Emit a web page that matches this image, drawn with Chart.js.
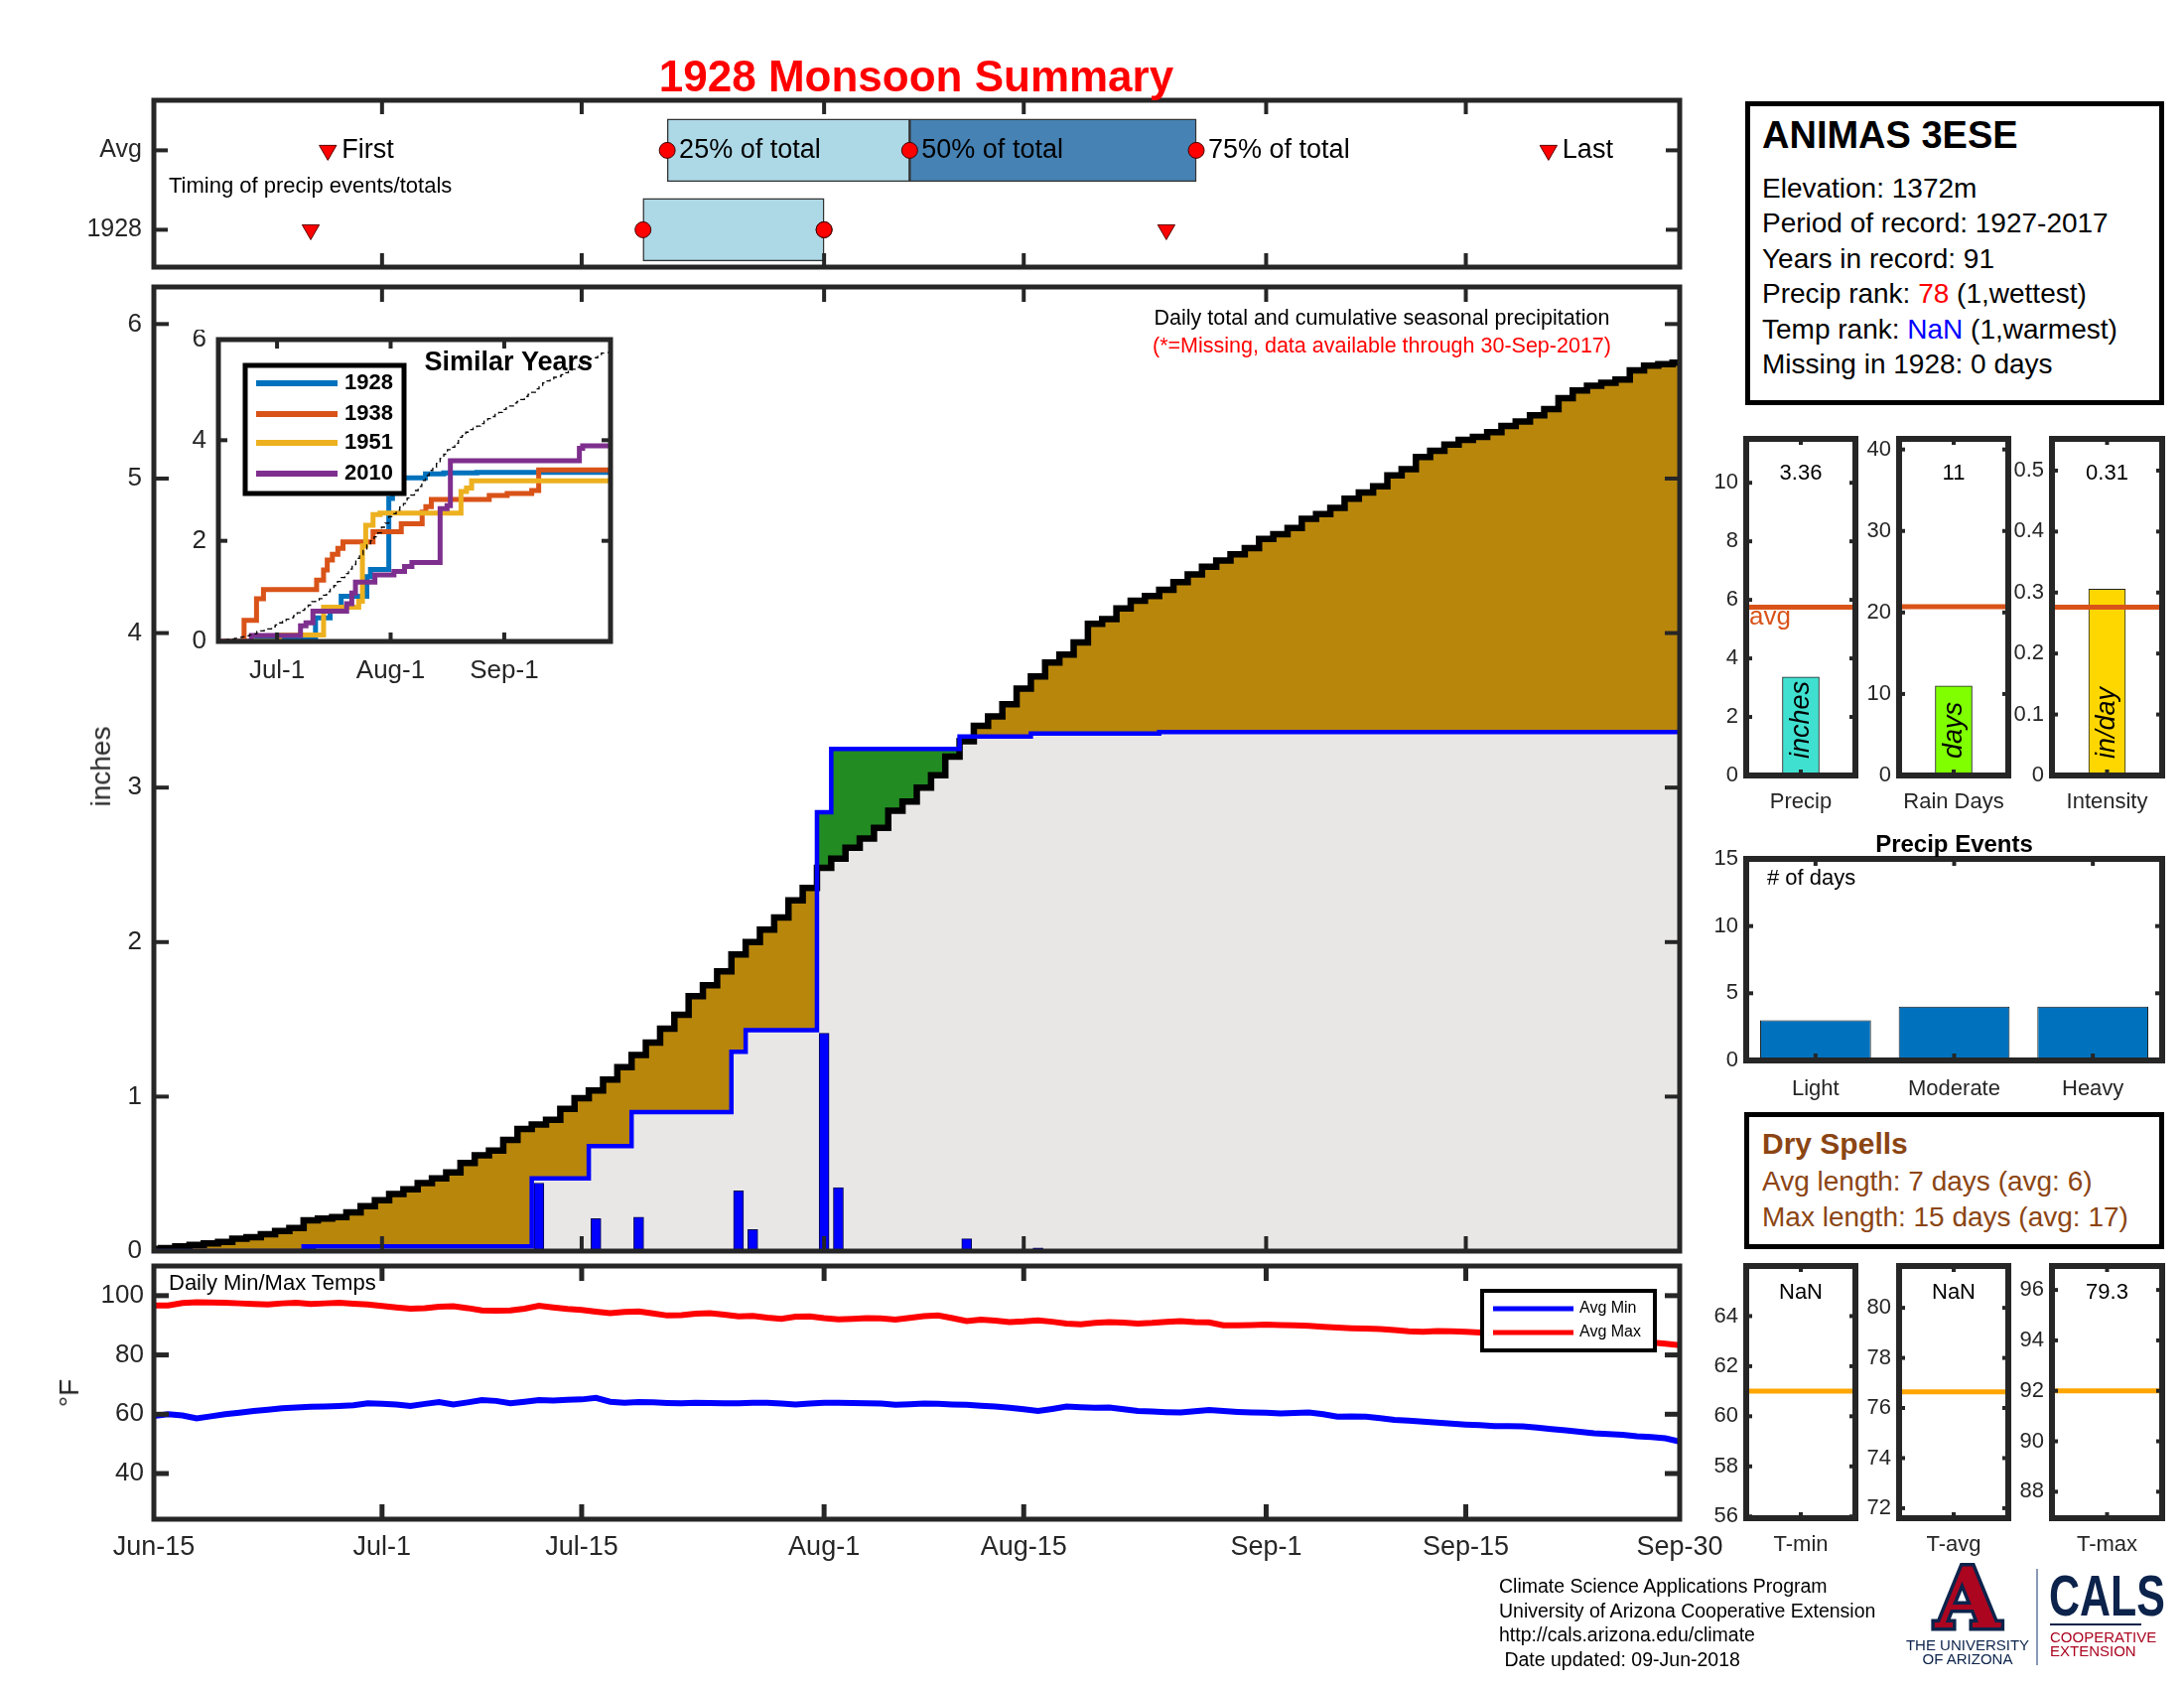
<!DOCTYPE html>
<html>
<head>
<meta charset="utf-8">
<script src="https://cdn.jsdelivr.net/npm/chart.js"></script>
<style>
  body { margin: 0; background: #fff; }
  #page { position: relative; width: 2200px; height: 1700px; overflow: hidden; background: #fff; }
  #page canvas { position: absolute; }
  .t { position: absolute; white-space: nowrap; line-height: 1.15; }
  .box { position: absolute; border: 5px solid #000; box-sizing: border-box; background: #fff; }
</style>
</head>
<body>
<div id="page"></div>
<script>
// ---- data ----
const dayTicks = [0, 16, 30, 47, 61, 78, 92, 107];
const dayTickLabels = ['Jun-15', 'Jul-1', 'Jul-15', 'Aug-1', 'Aug-15', 'Sep-1', 'Sep-15', 'Sep-30'];

// average cumulative seasonal precip (inches), one value per day from Jun-15
const avgCum = [
  0.015, 0.02, 0.03, 0.04, 0.05, 0.06, 0.08, 0.09, 0.11, 0.13,
  0.15, 0.20, 0.21, 0.22, 0.25, 0.29, 0.33, 0.37, 0.40, 0.44,
  0.47, 0.51, 0.57, 0.62, 0.65, 0.72, 0.79, 0.82, 0.85, 0.92,
  0.99, 1.04, 1.11, 1.19, 1.27, 1.35, 1.44, 1.53, 1.65, 1.72,
  1.81, 1.92, 2.00, 2.08, 2.16, 2.27, 2.35, 2.48, 2.54, 2.61,
  2.67, 2.74, 2.85, 2.91, 3.00, 3.08, 3.20, 3.30, 3.40, 3.46,
  3.54, 3.64, 3.72, 3.81, 3.86, 3.94, 4.06, 4.09, 4.16, 4.21,
  4.24, 4.28, 4.33, 4.38, 4.43, 4.47, 4.51, 4.55, 4.61, 4.64,
  4.68, 4.74, 4.77, 4.81, 4.87, 4.91, 4.95, 5.02, 5.06, 5.14,
  5.18, 5.22, 5.25, 5.27, 5.30, 5.34, 5.37, 5.41, 5.45, 5.52,
  5.57, 5.60, 5.62, 5.64, 5.70, 5.73, 5.74, 5.75
];

// 1928 daily rain (day index from Jun-15, inches)
const rainDays1928 = [11, 27, 31, 34, 41, 42, 47, 48, 57, 62, 71];
const rain1928 = [0.03, 0.44, 0.21, 0.22, 0.39, 0.14, 1.41, 0.41, 0.08, 0.02, 0.01];

// average daily min / max temps (F)
const tMaxAvg = [
  96.7, 96.7, 97.5, 97.8, 97.7, 97.6, 97.4, 97.2, 97.0, 97.4,
  97.6, 97.2, 97.4, 97.6, 97.3, 97.0, 96.5, 96.0, 95.6, 95.8,
  96.3, 96.4, 95.8, 95.0, 94.9, 95.0, 95.6, 96.6, 96.0, 95.5,
  95.2, 94.6, 94.1, 94.5, 94.7, 94.0, 93.3, 93.4, 93.9, 94.1,
  93.6, 93.0, 93.2, 92.6, 92.2, 92.9, 93.0, 92.4, 92.0, 92.2,
  92.4, 92.3, 91.9, 92.5, 93.1, 93.3, 92.4, 91.4, 91.9, 91.6,
  91.1, 91.3, 91.7, 91.2, 90.6, 90.3, 90.8, 91.1, 90.9, 90.6,
  90.8, 91.2, 91.4, 91.1, 91.0, 90.0, 90.0, 90.1, 90.2, 90.1,
  90.0, 89.8, 89.5, 89.2, 89.0, 88.9, 88.7, 88.4, 88.0, 87.8,
  88.1, 88.0, 87.8, 87.6, 87.5, 87.2, 86.9, 86.8, 86.5, 86.2,
  86.0, 85.6, 85.3, 85.0, 84.7, 84.2, 83.8, 83.3
];
const tMinAvg = [
  59.4, 60.0, 59.6, 58.6, 59.3, 60.0, 60.5, 61.1, 61.5, 62.0,
  62.3, 62.5, 62.6, 62.8, 63.0, 63.7, 63.5, 63.3, 62.8, 63.5,
  64.1, 63.3, 64.0, 64.8, 64.5, 63.7, 64.2, 64.8, 64.6, 64.9,
  65.0, 65.5, 64.2, 63.9, 64.1, 64.0, 63.8, 63.7, 63.9, 63.8,
  63.7, 63.7, 63.9, 63.9, 63.6, 63.3, 63.6, 63.9, 63.9, 63.8,
  63.7, 63.6, 63.2, 63.4, 63.6, 63.5, 63.3, 63.2, 62.9, 62.6,
  62.2, 61.7, 61.1, 61.8, 62.6, 62.4, 62.2, 62.3, 61.7, 61.1,
  60.9, 60.7, 60.6, 61.0, 61.4, 61.1, 60.8, 60.6, 60.5, 60.3,
  60.4, 60.6, 60.0, 59.2, 59.3, 59.2, 58.7, 58.1, 57.8, 57.5,
  57.2, 56.8, 56.5, 56.3, 56.0, 56.0, 55.9, 55.5, 55.0, 54.6,
  54.1, 53.6, 53.3, 53.1, 52.6, 52.3, 51.9, 50.8
];

// timing panel (days from Jun-15)
const timingRows = ['1928', 'Avg'];
const avgFirstLast = [12.2, 97.8];
const avgPct = [36.0, 53.0, 73.1];
const yrFirstLast = [11, 71];
const yrPct = [34.3, 47, 47];
const pctLabels = ['25% of total', '50% of total', '75% of total'];

// similar years (step positions and cumulative inches)
const sim1938Days = [0, 7, 10.4, 12.3, 26.8, 28.7, 29.7, 31.1, 32.6, 34, 42.2, 49.9, 55.6, 56.6, 58.1, 73.9, 78.8, 85.5, 87.4, 107];
const sim1938 = [0, 0.42, 0.85, 1.03, 1.22, 1.42, 1.62, 1.73, 1.85, 1.98, 2.18, 2.34, 2.57, 2.68, 2.82, 2.90, 2.94, 3.00, 3.41, 3.41];
const sim1951Days = [0, 16.7, 28.7, 38.3, 39.3, 40.2, 42.2, 44.1, 66.2, 67.7, 69.1, 107];
const sim1951 = [0, 0.13, 0.68, 0.80, 1.90, 2.31, 2.52, 2.55, 2.98, 3.05, 3.19, 3.19];
const sim2010Days = [0, 9, 22.4, 23.9, 25.8, 35, 36.4, 37.4, 42.7, 47.9, 50.8, 52.8, 60.5, 62.4, 63.3, 98.5, 99.4, 107];
const sim2010 = [0, 0.12, 0.31, 0.37, 0.60, 0.75, 0.96, 1.18, 1.32, 1.39, 1.49, 1.57, 2.64, 2.70, 3.59, 3.84, 3.89, 3.89];

// right-hand summaries
const summaryLabels = ['Precip', 'Rain Days', 'Intensity'];
const summary1928 = [3.36, 11, 0.3055];
const summaryAvg = [5.75, 20.7, 0.276];
const eventLabels = ['Light', 'Moderate', 'Heavy'];
const eventCounts = [3, 4, 4];
const tempLabels = ['T-min', 'T-avg', 'T-max'];
const temp1928 = [NaN, NaN, 79.3];
const tempAvg = [61.0, 76.64, 92.0];

// ---- helpers ----
const FONT = "'Liberation Sans', Arial, Helvetica, sans-serif";
const INK = '#262626';
const f = (px, w) => (w ? w + ' ' : '') + px + 'px ' + FONT;
Chart.defaults.font.family = FONT;
Chart.defaults.color = INK;

const page = document.getElementById('page');
const deco = {};

const pts = (xs, ys) => xs.map((x, i) => ({ x: x, y: ys[i] }));
const days = avgCum.map((_, d) => d);
// matlab stairs: each day's value starts half a day before the bar
const stairs = ys => ys.map((y, d) => ({ x: d - 0.5, y: y })).concat([{ x: 107, y: ys[ys.length - 1] }]);

const cum1928 = [];
let run = 0;
for (let d = 0; d <= 107; d++) {
  const i = rainDays1928.indexOf(d);
  if (i >= 0) run += rain1928[i];
  cum1928.push(+run.toFixed(3));
}
const avgPts = stairs(avgCum);
const cumPts = stairs(cum1928);
const dayLabel = v => dayTickLabels[dayTicks.indexOf(v)];

function scale(min, max, ticks, opt) {
  opt = opt || {};
  const s = {
    type: opt.type || 'linear',
    offset: !!opt.offset,
    grid: { display: false, drawTicks: false },
    border: { display: false },
    ticks: { display: opt.labels !== false, font: { size: opt.size || 26 }, color: INK,
             padding: opt.pad === undefined ? 12 : opt.pad, autoSkip: false, maxRotation: 0, minRotation: 0 }
  };
  if (min !== undefined) s.min = min;
  if (max !== undefined) s.max = max;
  if (ticks) s.afterBuildTicks = sc => { sc.ticks = ticks.map(v => ({ value: v })); };
  if (opt.fmt) s.ticks.callback = opt.fmt;
  return s;
}

function noPad(s) { s.paddingLeft = 0; s.paddingRight = 0; s.paddingTop = 0; s.paddingBottom = 0; }

function makeChart(id, area, m, config, d) {
  deco[id] = d || {};
  const c = document.createElement('canvas');
  c.id = id;
  const w = area[2] - area[0] + m[0] + m[2];
  const h = area[3] - area[1] + m[1] + m[3];
  c.width = w; c.height = h;
  c.style.left = (area[0] - m[0]) + 'px';
  c.style.top = (area[1] - m[1]) + 'px';
  c.style.width = w + 'px'; c.style.height = h + 'px';
  page.appendChild(c);
  const o = config.options;
  o.responsive = false;
  o.animation = false;
  o.devicePixelRatio = 1;
  o.layout = { autoPadding: false, padding: { left: 0, top: m[1], right: m[2], bottom: 0 } };
  o.scales.x.afterFit = s => { s.height = m[3]; noPad(s); };
  o.scales.y.afterFit = s => { s.width = m[0]; noPad(s); };
  o.plugins = { legend: { display: false }, tooltip: { enabled: false }, filler: { drawTime: 'beforeDatasetsDraw' } };
  return new Chart(c, config);
}

function drawLegend(chart, L) {
  const ctx = chart.ctx, a = chart.chartArea;
  const x0 = (L.ax === 'right' ? a.right : a.left) + L.dx, y0 = a.top + L.dy;
  ctx.fillStyle = '#fff';
  ctx.fillRect(x0, y0, L.w, L.h);
  ctx.lineWidth = L.lw; ctx.strokeStyle = '#000';
  ctx.strokeRect(x0, y0, L.w, L.h);
  L.items.forEach((idx, k) => {
    const ds = chart.data.datasets[idx];
    const y = y0 + L.rows[k];
    ctx.strokeStyle = ds.borderColor; ctx.lineWidth = L.sw;
    ctx.beginPath(); ctx.moveTo(x0 + L.x1, y); ctx.lineTo(x0 + L.x2, y); ctx.stroke();
    ctx.fillStyle = '#000'; ctx.font = L.font; ctx.textAlign = 'left'; ctx.textBaseline = 'middle';
    ctx.fillText(ds.label, x0 + L.tx, y);
  });
}

Chart.register({
  id: 'deco',
  beforeDraw(chart) {
    const d = deco[chart.canvas.id];
    if (!d || !d.bg) return;
    const a = chart.chartArea, ctx = chart.ctx;
    ctx.save(); ctx.fillStyle = d.bg;
    ctx.fillRect(a.left, a.top, a.right - a.left, a.bottom - a.top);
    ctx.restore();
  },
  afterDatasetsDraw(chart) {
    const d = deco[chart.canvas.id];
    if (!d) return;
    const a = chart.chartArea, ctx = chart.ctx, sx = chart.scales.x, sy = chart.scales.y;
    ctx.save();
    (d.hlines || []).forEach(h => {
      const y = sy.getPixelForValue(h.v);
      ctx.strokeStyle = h.color; ctx.lineWidth = h.w;
      ctx.beginPath(); ctx.moveTo(a.left, y); ctx.lineTo(a.right, y); ctx.stroke();
    });
    if (d.legend) drawLegend(chart, d.legend);
    const fr = d.frame;
    if (fr) {
      ctx.strokeStyle = INK;
      ctx.lineWidth = fr.tw;
      const seg = (x1, y1, x2, y2) => { ctx.beginPath(); ctx.moveTo(x1, y1); ctx.lineTo(x2, y2); ctx.stroke(); };
      (fr.xt || []).forEach(v => {
        const x = sx.getPixelForValue(v);
        seg(x, a.bottom, x, a.bottom - fr.len); seg(x, a.top, x, a.top + fr.len);
      });
      (fr.yt || []).forEach(v => {
        const y = sy.getPixelForValue(v);
        seg(a.left, y, a.left + fr.len, y); seg(a.right, y, a.right - fr.len, y);
      });
      ctx.lineWidth = fr.lw;
      ctx.strokeRect(a.left, a.top, a.right - a.left, a.bottom - a.top);
    }
    ctx.restore();
  },
  afterDraw(chart) {
    const d = deco[chart.canvas.id];
    if (!d || !d.notes) return;
    const a = chart.chartArea, ctx = chart.ctx, sx = chart.scales.x, sy = chart.scales.y;
    d.notes.forEach(n => {
      let x = n.ax === 'left' ? a.left : n.ax === 'right' ? a.right : n.ax === 'center' ? (a.left + a.right) / 2 : sx.getPixelForValue(n.x);
      let y = n.ay === 'top' ? a.top : n.ay === 'bottom' ? a.bottom : sy.getPixelForValue(n.y);
      x += n.dx || 0; y += n.dy || 0;
      ctx.save();
      ctx.translate(x, y);
      if (n.rot) ctx.rotate(n.rot);
      ctx.font = n.font; ctx.fillStyle = n.color || '#000';
      ctx.textAlign = n.align || 'center'; ctx.textBaseline = 'middle';
      ctx.fillText(n.text, 0, 0);
      ctx.restore();
    });
  }
});

// ---- timing panel ----
const tri = [
  { x: avgFirstLast[0], y: 1 }, { x: avgFirstLast[1], y: 1 },
  { x: yrFirstLast[0], y: 0 }, { x: yrFirstLast[1], y: 0 }
];
const dots = avgPct.map(x => ({ x: x, y: 1 })).concat(yrPct.map(x => ({ x: x, y: 0 })));
makeChart('timing', [155, 101, 1692, 269], [110, 10, 12, 10], {
  type: 'scatter',
  data: { datasets: [
    { type: 'scatter', data: tri, pointStyle: 'triangle', rotation: 180, pointRadius: 10,
      backgroundColor: '#ff0000', borderColor: '#5a0000', borderWidth: 1 },
    { type: 'scatter', data: dots, pointStyle: 'circle', pointRadius: 8,
      backgroundColor: '#ff0000', borderColor: '#3a0000', borderWidth: 1 },
    { type: 'bar', indexAxis: 'y', grouped: false, barThickness: 63, borderSkipped: false,
      data: [{ x: [avgPct[0], avgPct[1]], y: 1 }, { x: [avgPct[1], avgPct[2]], y: 1 }, { x: [yrPct[0], yrPct[1]], y: 0 }],
      backgroundColor: ['#add8e6', '#4682b4', '#add8e6'], borderColor: '#333', borderWidth: 1.5 }
  ] },
  options: { scales: {
    x: scale(0, 107, null, { labels: false }),
    y: scale(-0.47, 1.63, [0, 1], { fmt: v => timingRows[v], size: 25 })
  } }
}, {
  frame: { xt: dayTicks.slice(1, -1), yt: [0, 1], len: 14, tw: 4, lw: 5 },
  notes: [
    { x: avgFirstLast[0], y: 1, dx: 14, text: 'First', align: 'left', font: f(27) },
    { x: avgPct[0], y: 1, dx: 12, text: pctLabels[0], align: 'left', font: f(27) },
    { x: avgPct[1], y: 1, dx: 12, text: pctLabels[1], align: 'left', font: f(27) },
    { x: avgPct[2], y: 1, dx: 12, text: pctLabels[2], align: 'left', font: f(27) },
    { x: avgFirstLast[1], y: 1, dx: 14, text: 'Last', align: 'left', font: f(27) }
  ]
});

// ---- main cumulative precip panel ----
const barPts = pts(rainDays1928, rain1928);
makeChart('main', [155, 289, 1692, 1260], [110, 10, 12, 10], {
  type: 'line',
  data: { datasets: [
    { data: cumPts, borderColor: '#0000ff', borderWidth: 4.5, stepped: true, pointRadius: 0, fill: false },
    { data: avgPts, borderColor: '#000000', borderWidth: 6.5, stepped: true, pointRadius: 0, fill: false },
    { data: avgPts, borderColor: 'rgba(0,0,0,0)', stepped: true, pointRadius: 0,
      fill: { target: 3, above: '#b8860b', below: '#228b22' } },
    { data: cumPts, borderColor: 'rgba(0,0,0,0)', stepped: true, pointRadius: 0,
      fill: { target: 'origin', above: '#e9e7e6', below: '#e9e7e6' } },
    { type: 'bar', data: barPts, backgroundColor: '#0000ff', borderColor: '#00004d', borderWidth: 1,
      barThickness: 10, borderSkipped: false }
  ] },
  options: { scales: {
    x: scale(0, 107, null, { labels: false }),
    y: scale(0, 6.24, [0, 1, 2, 3, 4, 5, 6], { size: 26 })
  } }
}, { frame: { xt: dayTicks.slice(1, -1), yt: [1, 2, 3, 4, 5, 6], len: 15, tw: 4, lw: 5 } });

// ---- similar years inset ----
makeChart('inset', [220, 342, 615, 646], [50, 10, 10, 50], {
  type: 'line',
  data: { datasets: [
    { label: '1928', data: cumPts, borderColor: '#0072bd', borderWidth: 5, stepped: true, pointRadius: 0, order: 3 },
    { label: '1938', data: pts(sim1938Days, sim1938), borderColor: '#d95319', borderWidth: 5, stepped: true, pointRadius: 0, order: 2 },
    { label: '1951', data: pts(sim1951Days, sim1951), borderColor: '#edb120', borderWidth: 5, stepped: true, pointRadius: 0, order: 1 },
    { label: '2010', data: pts(sim2010Days, sim2010), borderColor: '#7e2f8e', borderWidth: 5, stepped: true, pointRadius: 0, order: 0 },
    { label: 'avg', data: avgPts, borderColor: '#000', borderWidth: 1.3, borderDash: [5, 4], stepped: true, pointRadius: 0, order: -1 }
  ] },
  options: { scales: {
    x: scale(0, 107, [16, 47, 78], { fmt: dayLabel, size: 26, pad: 14 }),
    y: scale(0, 6, [0, 2, 4, 6], { size: 26 })
  } }
}, {
  bg: '#fff',
  frame: { xt: [16, 47, 78], yt: [2, 4], len: 9, tw: 4, lw: 5 },
  legend: { ax: 'left', dx: 27, dy: 26, w: 160, h: 129, rows: [18, 49, 78, 109], items: [0, 1, 2, 3],
            x1: 11, x2: 93, tx: 100, sw: 6, lw: 5, font: f(22, 'bold') },
  notes: [{ ax: 'right', ay: 'top', dx: -18, dy: 24, text: 'Similar Years', align: 'right', font: f(27, 'bold') }]
});

// ---- temperature panel ----
makeChart('temp', [155, 1275, 1692, 1530], [110, 10, 60, 60], {
  type: 'line',
  data: { datasets: [
    { label: 'Avg Min', data: pts(days, tMinAvg), borderColor: '#0000ff', borderWidth: 6, pointRadius: 0 },
    { label: 'Avg Max', data: pts(days, tMaxAvg), borderColor: '#ff0000', borderWidth: 6, pointRadius: 0 }
  ] },
  options: { scales: {
    x: scale(0, 107, dayTicks, { fmt: dayLabel, size: 27, pad: 12 }),
    y: scale(24.6, 110, [40, 60, 80, 100], { size: 26, pad: 10 })
  } }
}, {
  frame: { xt: dayTicks.slice(1, -1), yt: [40, 60, 80, 100], len: 15, tw: 5, lw: 5 },
  legend: { ax: 'right', dx: -199, dy: 25, w: 174, h: 60, rows: [18, 42], items: [0, 1],
            x1: 11, x2: 92, tx: 98, sw: 5, lw: 4, font: f(16) }
});

// ---- right side summary bars ----
const sumAreas = [[1759, 442, 1869, 781], [1913, 442, 2023, 781], [2067, 442, 2178, 781]];
const sumRanges = [[0, 11.5, [0, 2, 4, 6, 8, 10]], [0, 41.3, [0, 10, 20, 30, 40]], [0, 0.552, [0, 0.1, 0.2, 0.3, 0.4, 0.5]]];
const sumColors = ['#40e0d0', '#7fff00', '#ffd700'];
const sumUnits = ['inches', 'days', 'in/day'];
summaryLabels.forEach((lab, i) => {
  const r = sumRanges[i];
  const notes = [
    { x: 0, ay: 'top', dy: 35, text: i === 1 ? String(summary1928[i]) : summary1928[i].toFixed(2), font: f(22) },
    { x: 0, ay: 'bottom', dy: -17, rot: -Math.PI / 2, align: 'left', text: sumUnits[i], font: f(27, 'italic') }
  ];
  if (i === 0) notes.push({ ax: 'left', y: summaryAvg[i], dx: 3, dy: 10, align: 'left', text: 'avg', color: '#d95319', font: f(26) });
  makeChart('sum' + i, sumAreas[i], [55, 10, 10, 45], {
    type: 'bar',
    data: { labels: [lab], datasets: [{ data: [summary1928[i]], backgroundColor: sumColors[i], borderColor: '#222',
                                        borderWidth: 1, borderSkipped: false, barThickness: 37 }] },
    options: { scales: {
      x: scale(undefined, undefined, null, { type: 'category', offset: true, size: 22, pad: 14 }),
      y: scale(r[0], r[1], r[2], { size: 22, pad: 8 })
    } }
  }, {
    hlines: [{ v: summaryAvg[i], color: '#d95319', w: 5 }],
    frame: { xt: [0], yt: r[2].slice(1), len: 6, tw: 4, lw: 6 },
    notes: notes
  });
});

// ---- precip events ----
makeChart('events', [1759, 865, 2178, 1068], [55, 40, 10, 45], {
  type: 'bar',
  data: { labels: eventLabels, datasets: [{ data: eventCounts, backgroundColor: '#0072bd', borderColor: '#1a1a1a',
                                             borderWidth: 1, borderSkipped: false, barPercentage: 0.8, categoryPercentage: 1 }] },
  options: { scales: {
    x: scale(undefined, undefined, null, { type: 'category', offset: true, size: 22, pad: 16 }),
    y: scale(0, 15, [0, 5, 10, 15], { size: 22, pad: 8 })
  } }
}, {
  frame: { xt: [0, 1, 2], yt: [5, 10], len: 7, tw: 4, lw: 6 },
  notes: [
    { ax: 'left', ay: 'top', dx: 21, dy: 20, text: '# of days', align: 'left', font: f(22) },
    { ax: 'center', ay: 'top', dy: -14, text: 'Precip Events', font: f(24, 'bold') }
  ]
});

// ---- temperature summaries ----
const tAreas = [[1759, 1275, 1869, 1529], [1913, 1275, 2023, 1529], [2067, 1275, 2178, 1529]];
const tRanges = [[55.93, 66.0, [56, 58, 60, 62, 64]], [71.6, 81.67, [72, 74, 76, 78, 80]], [86.95, 96.95, [88, 90, 92, 94, 96]]];
tempLabels.forEach((lab, i) => {
  const r = tRanges[i];
  const v = temp1928[i];
  makeChart('tsum' + i, tAreas[i], [55, 10, 10, 45], {
    type: 'bar',
    data: { labels: [lab], datasets: [{ data: [isNaN(v) ? null : v], backgroundColor: '#ffa500', borderColor: '#222',
                                        borderWidth: 1, barThickness: 37 }] },
    options: { scales: {
      x: scale(undefined, undefined, null, { type: 'category', offset: true, size: 22, pad: 14 }),
      y: scale(r[0], r[1], r[2], { size: 22, pad: 8 })
    } }
  }, {
    hlines: [{ v: tempAvg[i], color: '#ffa500', w: 5 }],
    frame: { xt: [0], yt: r[2], len: 6, tw: 4, lw: 6 },
    notes: [{ x: 0, ay: 'top', dy: 27, text: isNaN(v) ? 'NaN' : v.toFixed(1), font: f(22) }]
  });
});

// ---- page text ----
function text(x, y, s, font, color, anchor, extra) {
  const el = document.createElement('div');
  el.className = 't';
  el.innerHTML = s;
  const tr = anchor === 'c' ? 'translate(-50%,-50%)' : 'translate(0,-50%)';
  el.style.left = x + 'px';
  el.style.top = y + 'px';
  el.style.font = font;
  el.style.lineHeight = '1.15';
  el.style.color = color || '#000';
  el.style.transform = tr + (extra || '');
  page.appendChild(el);
  return el;
}
function box(l, t, r, b) {
  const el = document.createElement('div');
  el.className = 'box';
  el.style.left = l + 'px'; el.style.top = t + 'px';
  el.style.width = (r - l) + 'px'; el.style.height = (b - t) + 'px';
  page.appendChild(el);
}

text(923, 77, '1928 Monsoon Summary', f(44, 'bold'), '#ff0000', 'c');
text(170, 187, 'Timing of precip events/totals', f(22), '#000');
text(1392, 320, 'Daily total and cumulative seasonal precipitation', f(21.5), '#000', 'c');
text(1392, 348, '(*=Missing, data available through 30-Sep-2017)', f(21.5), '#ff0000', 'c');
text(102, 772, 'inches', f(28), INK, 'c', ' rotate(-90deg)');
text(170, 1292, 'Daily Min/Max Temps', f(22), '#000');
text(70, 1403, '&deg;F', f(28), INK, 'c', ' rotate(-90deg)');

box(1758, 102, 2180, 408);
text(1775, 137, 'ANIMAS 3ESE', f(38, 'bold'), '#000');
const infoLines = [
  'Elevation: 1372m',
  'Period of record: 1927-2017',
  'Years in record: 91',
  'Precip rank: <span style="color:#ff0000">78</span> (1,wettest)',
  'Temp rank: <span style="color:#0000ff">NaN</span> (1,warmest)',
  'Missing in 1928: 0 days'
];
infoLines.forEach((s, i) => text(1775, 190 + i * 35.4, s, f(28), '#000'));

box(1757, 1120, 2180, 1258);
text(1775, 1152, 'Dry Spells', f(30, 'bold'), '#8b4513');
text(1775, 1190, 'Avg length: 7 days (avg: 6)', f(28), '#8b4513');
text(1775, 1226, 'Max length: 15 days (avg: 17)', f(28), '#8b4513');

['Climate Science Applications Program', 'University of Arizona Cooperative Extension',
 'http://cals.arizona.edu/climate', '&nbsp;Date updated: 09-Jun-2018']
  .forEach((s, i) => text(1510, 1597 + i * 24.5, s, f(19.5), '#000'));

// logos (text approximation)
const aLogo = text(1982, 1610, 'A', "bold 84px 'DejaVu Serif', serif", '#ab0520', 'c');
aLogo.style.webkitTextStroke = '7px #0c234b';
aLogo.style.paintOrder = 'stroke fill';
text(1982, 1657, 'THE UNIVERSITY', f(15), '#0c234b', 'c');
text(1982, 1671, 'OF ARIZONA', f(15), '#0c234b', 'c');
const vline = document.createElement('div');
vline.style.cssText = 'position:absolute;left:2051px;top:1580px;width:2px;height:97px;background:#8a9ab5;';
page.appendChild(vline);
const cals = text(2064, 1607, 'CALS', "bold 58px 'Liberation Sans Narrow', 'Liberation Sans', Arial, sans-serif", '#0c234b');
cals.style.transformOrigin = 'left center';
cals.style.transform = 'translate(0,-50%) scaleX(0.74)';
const uline = document.createElement('div');
uline.style.cssText = 'position:absolute;left:2065px;top:1635px;width:92px;height:2px;background:#0c234b;';
page.appendChild(uline);
text(2065, 1649, 'COOPERATIVE', f(15), '#ab0520');
text(2065, 1663, 'EXTENSION', f(15), '#ab0520');
</script>
</body>
</html>
